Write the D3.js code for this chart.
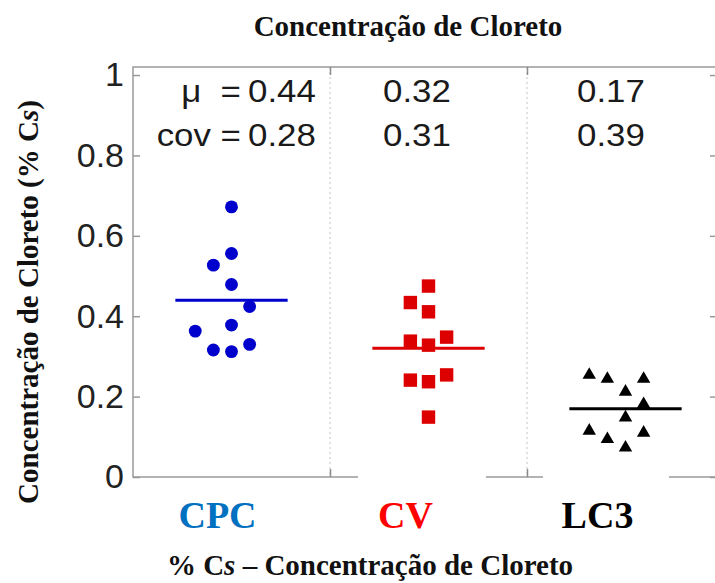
<!DOCTYPE html>
<html>
<head>
<meta charset="utf-8">
<script src="https://cdn.jsdelivr.net/npm/d3@7"></script>
<style>
  html, body { margin: 0; padding: 0; background: #fff; }
  svg { display: block; }
</style>
</head>
<body>
<svg id="chart" width="715" height="583"></svg>
<script>
// Chloride concentration (% Cs) per mix
const categories = ["CPC", "CV", "LC3"];
const categoryColors = ["#0070c0", "#ff0000", "#000000"];
const markerColors = ["#0000cc", "#dd0000", "#000000"];

const cpcValues = [0.672, 0.556, 0.527, 0.479, 0.424, 0.378, 0.363, 0.330, 0.316, 0.312];
const cpcSlots  = [0, 0, -1, 0, 1, 0, -2, 1, -1, 0];
const cvValues  = [0.475, 0.434, 0.411, 0.348, 0.338, 0.328, 0.254, 0.241, 0.237, 0.149];
const cvSlots   = [0, -1, 0, 1, -1, 0, 1, -1, 0, 0];
const lc3Values = [0.254, 0.244, 0.244, 0.212, 0.181, 0.148, 0.115, 0.110, 0.094, 0.073];
const lc3Slots  = [-2, -1, 1, 0, 1, 0, -2, 1, -1, 0];

const means = [0.44, 0.32, 0.17];
const covs  = [0.28, 0.31, 0.39];

const yTicks = [0, 0.2, 0.4, 0.6, 0.8, 1];
const yTickLabels = ["0", "0.2", "0.4", "0.6", "0.8", "1"];

const groups = [
  { values: cpcValues, slots: cpcSlots, symbol: d3.symbolCircle, size: 130 },
  { values: cvValues,  slots: cvSlots,  symbol: d3.symbolSquare, size: 180 },
  { values: lc3Values, slots: lc3Slots, symbol: d3.symbolTriangle, size: 78 }
];

const svg = d3.select("#chart");
const plotLeft = 133, plotRight = 717, plotTop = 67, plotBottom = 477;

const x = d3.scaleLinear().domain([0.5, 3.5]).range([plotLeft, 724]);
const y = d3.scaleLinear().domain([0, 1.02]).range([plotBottom, plotTop]);

const axisColor = "#9a9a9a";
const sans = "'Liberation Sans', Arial, sans-serif";
const serif = "'Liberation Serif', 'Times New Roman', serif";

// group separators (dotted)
svg.append("g").selectAll("line")
  .data([1.5, 2.5]).join("line")
  .attr("x1", d => x(d)).attr("x2", d => x(d))
  .attr("y1", plotTop).attr("y2", plotBottom)
  .attr("stroke", "#c4c4c4").attr("stroke-width", 1)
  .attr("stroke-dasharray", "2,3");

// frame
svg.append("rect")
  .attr("x", plotLeft).attr("y", plotTop)
  .attr("width", plotRight - plotLeft).attr("height", plotBottom - plotTop)
  .attr("fill", "none").attr("stroke", axisColor).attr("stroke-width", 1.5);

// y axis (left, ticks inward)
const yAxis = d3.axisLeft(y)
  .tickValues(yTicks)
  .tickFormat((d, i) => yTickLabels[i])
  .tickSizeInner(-7).tickSizeOuter(0).tickPadding(9);
const gy = svg.append("g").attr("transform", `translate(${plotLeft},0)`).call(yAxis);
gy.select(".domain").remove();
gy.selectAll(".tick line").attr("stroke", axisColor).attr("stroke-width", 1.5);
gy.selectAll(".tick text")
  .attr("font-family", sans).attr("font-size", 34).attr("fill", "#222");

// right axis ticks
const gyr = svg.append("g").attr("transform", `translate(${plotRight},0)`)
  .call(d3.axisRight(y).tickValues(yTicks).tickFormat("").tickSizeInner(-7).tickSizeOuter(0));
gyr.select(".domain").remove();
gyr.selectAll(".tick line").attr("stroke", axisColor).attr("stroke-width", 1.5);

// x ticks at separators, top and bottom
[[plotBottom, d3.axisBottom], [plotTop, d3.axisTop]].forEach(([yy, ax]) => {
  const g = svg.append("g").attr("transform", `translate(0,${yy})`)
    .call(ax(x).tickValues([1.5, 2.5]).tickFormat("").tickSizeInner(-8).tickSizeOuter(0));
  g.select(".domain").remove();
  g.selectAll(".tick line").attr("stroke", "#8a8a8a").attr("stroke-width", 1.5);
});

// points
groups.forEach((grp, gi) => {
  const cx = gi + 1;
  svg.append("g").selectAll("path")
    .data(grp.values).join("path")
    .attr("d", d3.symbol().type(grp.symbol).size(grp.size))
    .attr("transform", (d, i) => `translate(${x(cx + grp.slots[i] * 0.092)},${y(d)})`)
    .attr("fill", markerColors[gi]);
});

// mean lines
svg.append("g").selectAll("line")
  .data(means).join("line")
  .attr("x1", (d, i) => x(i + 1 - 0.285))
  .attr("x2", (d, i) => x(i + 1 + 0.285))
  .attr("y1", d => y(d)).attr("y2", d => y(d))
  .attr("stroke", (d, i) => markerColors[i]).attr("stroke-width", 3);

// statistics (slightly wide sans text)
const rowY = [102, 146];
const valueStart = [248, 383, 577];
function statText(xPos, yPos, anchor, str) {
  return svg.append("text")
    .attr("transform", `translate(${xPos},${yPos}) scale(1.09,1)`)
    .attr("text-anchor", anchor).attr("font-family", sans).attr("font-size", 32)
    .attr("fill", "#1a1a1a").style("white-space", "pre").text(str);
}
statText(241, rowY[0], "end", "μ  =");
statText(241, rowY[1], "end", "cov =");
means.forEach((m, i) => {
  statText(valueStart[i], rowY[0], "start", m.toFixed(2));
  statText(valueStart[i], rowY[1], "start", covs[i].toFixed(2));
});

// category labels, on white boxes over the baseline
const labelShift = [-14, -23, -28];
const boxes = [null, [358, 486], [543, 669]];
boxes.forEach(b => {
  if (!b) return;
  svg.append("rect").attr("x", b[0]).attr("y", 472).attr("width", b[1] - b[0]).attr("height", 60)
    .attr("fill", "#fff");
});
categories.forEach((c, i) => {
  svg.append("text")
    .attr("x", x(i + 1) + labelShift[i]).attr("y", 528)
    .attr("text-anchor", "middle")
    .attr("font-family", serif).attr("font-weight", "bold").attr("font-size", 38)
    .attr("fill", categoryColors[i]).text(c);
});

// title
svg.append("text").attr("x", 408).attr("y", 36).attr("text-anchor", "middle")
  .attr("font-family", serif).attr("font-weight", "bold").attr("font-size", 29)
  .attr("fill", "#111").text("Concentração de Cloreto");

// x axis title
const xt = svg.append("text").attr("x", 370).attr("y", 575).attr("text-anchor", "middle")
  .attr("font-family", serif).attr("font-weight", "bold").attr("font-size", 29).attr("fill", "#111");
xt.append("tspan").text("% C");
xt.append("tspan").attr("font-style", "italic").text("s");
xt.append("tspan").text(" – Concentração de Cloreto");

// y axis title
const yt = svg.append("text")
  .attr("transform", "translate(38,302) rotate(-90)")
  .attr("text-anchor", "middle")
  .attr("font-family", serif).attr("font-weight", "bold").attr("font-size", 29).attr("fill", "#111");
yt.append("tspan").text("Concentração de Cloreto (% C");
yt.append("tspan").attr("font-style", "italic").text("s");
yt.append("tspan").text(")");
</script>
</body>
</html>
